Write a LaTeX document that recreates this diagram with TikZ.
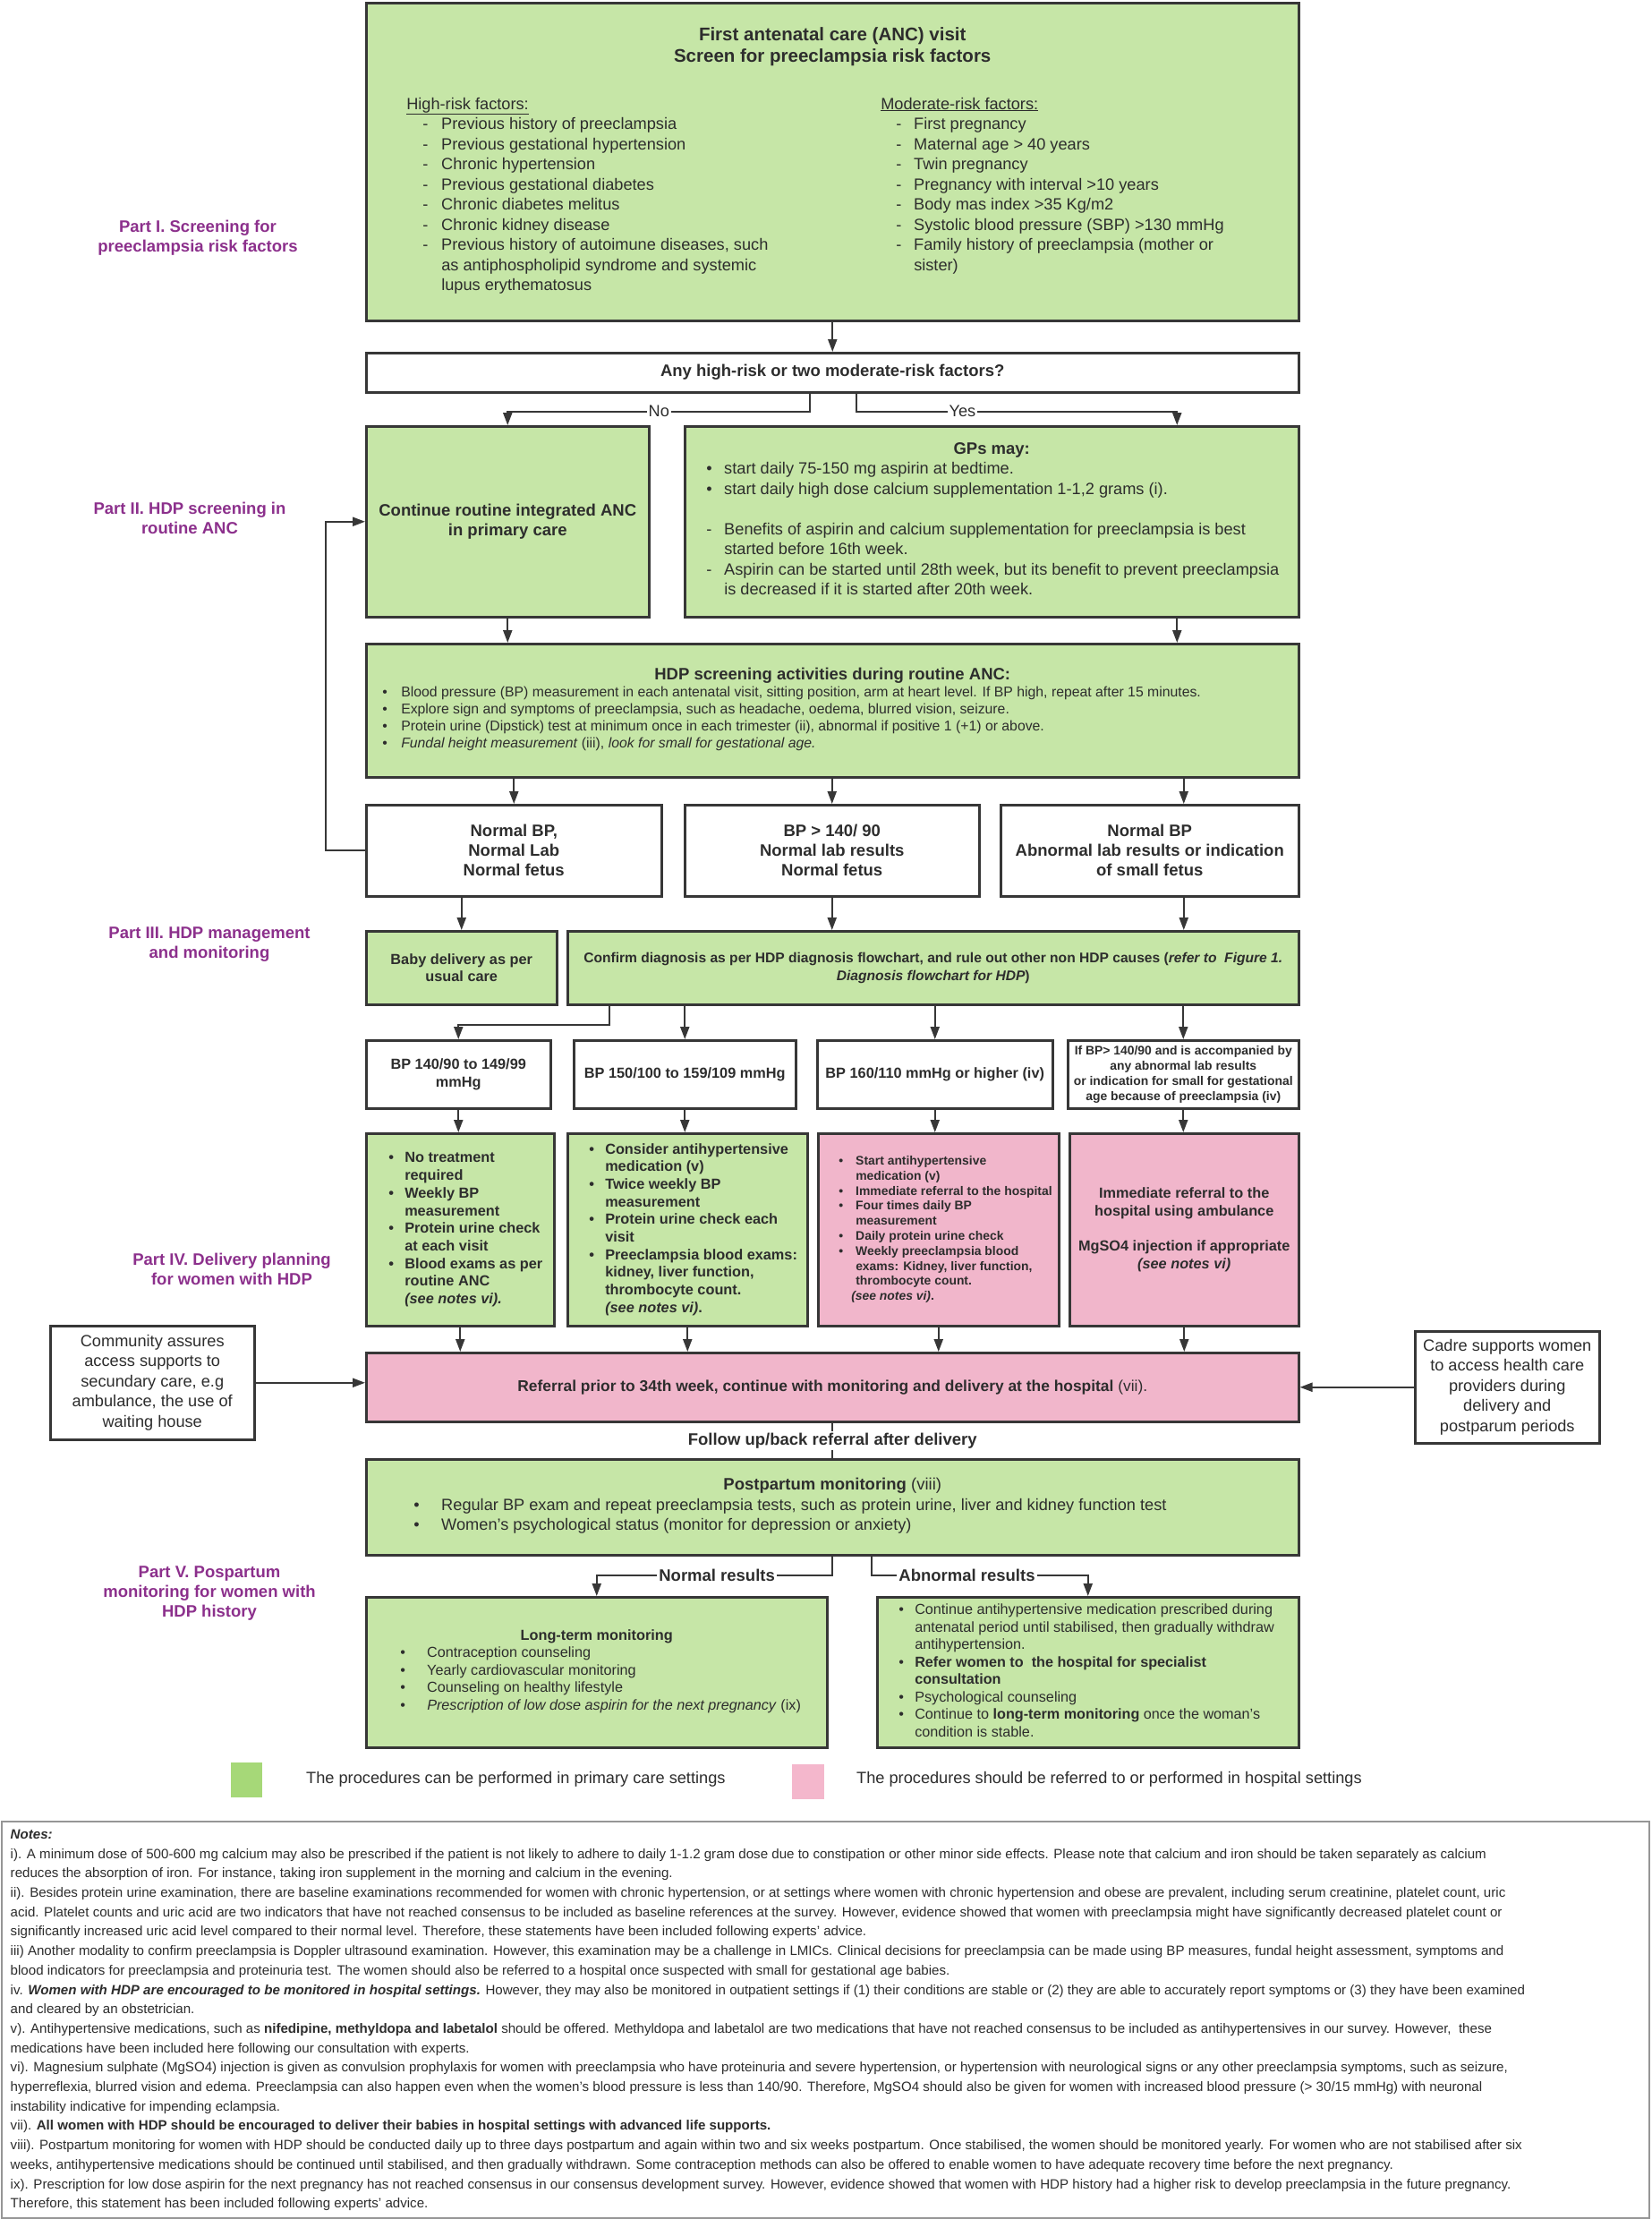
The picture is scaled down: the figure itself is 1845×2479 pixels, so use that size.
\documentclass[tikz,border=0pt]{standalone}
\usepackage{fontspec}
\setmainfont{Liberation Sans}
\usepackage{xcolor}
\usepackage{tikz}
\usetikzlibrary{arrows.meta}
\definecolor{ancgreen}{RGB}{198,230,167}
\definecolor{hosppink}{RGB}{241,182,203}
\definecolor{keygreen}{RGB}{166,216,120}
\definecolor{keypink}{RGB}{244,183,204}
\definecolor{partpurple}{RGB}{140,48,140}
\definecolor{boxline}{RGB}{55,55,55}
\definecolor{notegray}{RGB}{150,150,150}
\definecolor{txtgray}{RGB}{45,45,45}
\newcommand{\ttltxt}{\fontsize{20.5}{24.5}\selectfont\bfseries}
\newcommand{\hdtxt}{\fontsize{18.5}{22}\selectfont\bfseries}
\newcommand{\bodytxt}{\fontsize{18.2}{22.5}\selectfont}
\newcommand{\scrtxt}{\fontsize{15.8}{19}\selectfont}
\newcommand{\midtxt}{\fontsize{16.3}{19.7}\selectfont\bfseries}
\newcommand{\conftxt}{\fontsize{15.6}{19.7}\selectfont\bfseries}
\newcommand{\reftxt}{\fontsize{17.4}{21}\selectfont\bfseries}
\newcommand{\smtxt}{\fontsize{16.2}{19.5}\selectfont}
\newcommand{\tinytxt}{\fontsize{13.9}{16.8}\selectfont\bfseries}
\newcommand{\notetxt}{\fontsize{15.1}{21.7}\selectfont}
\tikzstyle{plainbox} = [draw=boxline, fill=white, line width=2.5pt,
    rectangle, anchor=north west, inner sep=0pt, align=center, text=txtgray]
\tikzstyle{greenbox} = [plainbox, fill=ancgreen]
\tikzstyle{pinkbox} = [plainbox, fill=hosppink]
\tikzstyle{parttitle} = [text=partpurple, font=\hdtxt, align=center]
\tikzstyle{arr} = [draw=boxline, line width=2pt, -{Triangle[length=14pt,width=10pt]}]
\tikzstyle{brlabel} = [fill=white, inner sep=2pt, text=txtgray, font=\bodytxt]

\begin{document}
\begin{tikzpicture}[x=1pt, y=-1pt]
\fill[white] (0,0) rectangle (1845,2479);
\useasboundingbox (0,0) rectangle (1845,2479);

\node[parttitle] (part1) at (221,266) {Part I. Screening for\\preeclampsia risk factors};
\node[parttitle] (part2) at (212,579) {Part II. HDP screening in\\routine ANC};
\node[parttitle] (part3) at (234,1055) {Part III. HDP management\\and monitoring};
\node[parttitle] (part4) at (259,1418) {Part IV. Delivery planning\\for women with HDP};
\node[parttitle] (part5) at (234,1780) {Part V. Pospartum\\monitoring for women with\\HDP history};

\node[greenbox, minimum width=1042pt, minimum height=355pt] (anc) at (408,2) {
    \begin{minipage}{1042pt}
    {\centering\ttltxt First antenatal care (ANC) visit\\Screen for preeclampsia risk factors\par}
    \vspace{30pt}
    \bodytxt\hspace*{45pt}\makebox[530pt][l]{\begin{tabular}[t]{@{}p{39pt}@{}l@{}}
        \multicolumn{2}{@{}l}{\underline{High-risk factors:}}\\
        \hspace*{18pt}- & Previous history of preeclampsia\\
        \hspace*{18pt}- & Previous gestational hypertension\\
        \hspace*{18pt}- & Chronic hypertension\\
        \hspace*{18pt}- & Previous gestational diabetes\\
        \hspace*{18pt}- & Chronic diabetes melitus\\
        \hspace*{18pt}- & Chronic kidney disease\\
        \hspace*{18pt}- & Previous history of autoimune diseases, such\\
        & as antiphospholipid syndrome and systemic\\
        & lupus erythematosus
    \end{tabular}}\begin{tabular}[t]{@{}p{37pt}@{}l@{}}
        \multicolumn{2}{@{}l}{\underline{Moderate-risk factors:}}\\
        \hspace*{17pt}- & First pregnancy\\
        \hspace*{17pt}- & Maternal age > 40 years\\
        \hspace*{17pt}- & Twin pregnancy\\
        \hspace*{17pt}- & Pregnancy with interval >10 years\\
        \hspace*{17pt}- & Body mas index >35 Kg/m2\\
        \hspace*{17pt}- & Systolic blood pressure (SBP) >130 mmHg\\
        \hspace*{17pt}- & Family history of preeclampsia (mother or\\
        & sister)
    \end{tabular}
    \end{minipage}};

\node[plainbox, minimum width=1042pt, minimum height=44pt, font=\hdtxt] (dec) at (408,393) {Any high-risk or two moderate-risk factors?};

\node[greenbox, minimum width=316pt, minimum height=213pt, font=\hdtxt] (cont) at (408,475) {Continue routine integrated ANC\\in primary care};

\node[greenbox, minimum width=686pt, minimum height=213pt] (gps) at (764,475) {
    \begin{minipage}{686pt}
    {\centering\hdtxt GPs may:\par}
    \bodytxt\hspace*{24pt}\begin{tabular}[t]{@{}p{20pt}@{}l@{}}
        \textbullet & start daily 75-150 mg aspirin at bedtime.\\
        \textbullet & start daily high dose calcium supplementation 1-1,2 grams (i).\\
        & \\
        - & Benefits of aspirin and calcium supplementation for preeclampsia is best\\
        & started before 16th week.\\
        - & Aspirin can be started until 28th week, but its benefit to prevent preeclampsia\\
        & is decreased if it is started after 20th week.
    \end{tabular}
    \end{minipage}};

\node[greenbox, minimum width=1042pt, minimum height=149pt] (hdp) at (408,718) {
    \begin{minipage}{1042pt}
    {\centering\hdtxt HDP screening activities during routine ANC:\par}
    \scrtxt\hspace*{18pt}\begin{tabular}[t]{@{}p{21pt}@{}l@{}}
        \textbullet & Blood pressure (BP) measurement in each antenatal visit, sitting position, arm at heart level. If BP high, repeat after 15 minutes.\\
        \textbullet & Explore sign and symptoms of preeclampsia, such as headache, oedema, blurred vision, seizure.\\
        \textbullet & Protein urine (Dipstick) test at minimum once in each trimester (ii), abnormal if positive 1 (+1) or above.\\
        \textbullet & \textit{Fundal height measurement} (iii), \textit{look for small for gestational age.}
    \end{tabular}
    \end{minipage}};

\node[plainbox, minimum width=330pt, minimum height=102pt, font=\hdtxt] (nb1) at (408,898) {Normal BP,\\Normal Lab\\Normal fetus};
\node[plainbox, minimum width=329pt, minimum height=102pt, font=\hdtxt] (nb2) at (764,898) {BP > 140/ 90\\Normal lab results\\Normal fetus};
\node[plainbox, minimum width=333pt, minimum height=102pt, font=\hdtxt] (nb3) at (1117,898) {Normal BP\\Abnormal lab results or indication\\of small fetus};

\node[greenbox, minimum width=213pt, minimum height=82pt, font=\midtxt] (baby) at (408,1039) {Baby delivery as per\\usual care};
\node[greenbox, minimum width=817pt, minimum height=82pt, font=\conftxt] (conf) at (633,1039) {Confirm diagnosis as per HDP diagnosis flowchart, and rule out other non HDP causes (\textit{refer to\ \ Figure 1.}\\\textit{Diagnosis flowchart for HDP})};

\node[plainbox, minimum width=206pt, minimum height=76pt, font=\midtxt] (bpa) at (408,1161) {BP 140/90 to 149/99\\mmHg};
\node[plainbox, minimum width=248pt, minimum height=76pt, font=\midtxt] (bpb) at (640,1161) {BP 150/100 to 159/109 mmHg};
\node[plainbox, minimum width=263pt, minimum height=76pt, font=\midtxt] (bpc) at (912,1161) {BP 160/110 mmHg or higher (iv)};
\node[plainbox, minimum width=258pt, minimum height=76pt, font=\tinytxt] (bpd) at (1192,1161) {If BP> 140/90 and is accompanied by\\any abnormal lab results\\or indication for small for gestational\\age because of preeclampsia (iv)};

\node[greenbox, minimum width=210pt, minimum height=215pt, font=\midtxt] (tr1) at (408,1265) {
    \begin{minipage}{210pt}
    \hspace*{25pt}\begin{tabular}[t]{@{}p{18pt}@{}l@{}}
        \textbullet & No treatment\\
        & required\\
        \textbullet & Weekly BP\\
        & measurement\\
        \textbullet & Protein urine check\\
        & at each visit\\
        \textbullet & Blood exams as per\\
        & routine ANC\\
        & \textit{(see notes vi).}
    \end{tabular}
    \end{minipage}};
\node[greenbox, minimum width=268pt, minimum height=215pt, font=\midtxt] (tr2) at (633,1265) {
    \begin{minipage}{268pt}
    \hspace*{24pt}\begin{tabular}[t]{@{}p{18pt}@{}l@{}}
        \textbullet & Consider antihypertensive\\
        & medication (v)\\
        \textbullet & Twice weekly BP\\
        & measurement\\
        \textbullet & Protein urine check each\\
        & visit\\
        \textbullet & Preeclampsia blood exams:\\
        & kidney, liver function,\\
        & thrombocyte count.\\
        & \textit{(see notes vi)}.
    \end{tabular}
    \end{minipage}};
\node[pinkbox, minimum width=269pt, minimum height=215pt, font=\tinytxt] (tr3) at (913,1265) {
    \begin{minipage}{269pt}
    \hspace*{23pt}\begin{tabular}[t]{@{}p{19pt}@{}l@{}}
        \textbullet & Start antihypertensive\\
        & medication (v)\\
        \textbullet & Immediate referral to the hospital\\
        \textbullet & Four times daily BP\\
        & measurement\\
        \textbullet & Daily protein urine check\\
        \textbullet & Weekly preeclampsia blood\\
        & exams: Kidney, liver function,\\
        & thrombocyte count.\\
        & \hspace*{-5pt}\textit{(see notes vi)}.
    \end{tabular}
    \end{minipage}};
\node[pinkbox, minimum width=256pt, minimum height=215pt, font=\midtxt] (tr4) at (1194,1265) {Immediate referral to the\\hospital using ambulance\\[19.7pt]MgSO4 injection if appropriate\\\textit{(see notes vi)}};

\node[plainbox, minimum width=228pt, minimum height=127pt, font=\bodytxt] (comm) at (55,1480) {Community assures\\access supports to\\secundary care, e.g\\ambulance, the use of\\waiting house};
\node[plainbox, minimum width=206pt, minimum height=125pt, font=\bodytxt] (cadre) at (1580,1486) {Cadre supports women\\to access health care\\providers during\\delivery and\\postparum periods};
\node[pinkbox, minimum width=1042pt, minimum height=77pt, font=\reftxt] (refer) at (408,1510) {Referral prior to 34th week, continue with monitoring and delivery at the hospital {\mdseries (vii).}};

\node[greenbox, minimum width=1042pt, minimum height=107pt] (post) at (408,1629) {
    \begin{minipage}{1042pt}
    {\centering\hdtxt Postpartum monitoring {\mdseries (viii)}\par}
    \bodytxt\hspace*{53pt}\begin{tabular}[t]{@{}p{31pt}@{}l@{}}
        \textbullet & Regular BP exam and repeat preeclampsia tests, such as protein urine, liver and kidney function test\\
        \textbullet & Women's psychological status (monitor for depression or anxiety)
    \end{tabular}
    \end{minipage}};

\node[greenbox, minimum width=515pt, minimum height=168pt] (longt) at (408,1783) {
    \begin{minipage}{515pt}
    {\centering\midtxt Long-term monitoring\par}
    \smtxt\hspace*{38pt}\begin{tabular}[t]{@{}p{30pt}@{}l@{}}
        \textbullet & Contraception counseling\\
        \textbullet & Yearly cardiovascular monitoring\\
        \textbullet & Counseling on healthy lifestyle\\
        \textbullet & \textit{Prescription of low dose aspirin for the next pregnancy} (ix)
    \end{tabular}
    \end{minipage}};
\node[greenbox, minimum width=471pt, minimum height=168pt] (abn) at (979,1783) {
    \begin{minipage}{471pt}
    \smtxt\hspace*{24pt}\begin{tabular}[t]{@{}p{18pt}@{}l@{}}
        \textbullet & Continue antihypertensive medication prescribed during\\
        & antenatal period until stabilised, then gradually withdraw\\
        & antihypertension.\\
        \textbullet & \textbf{Refer women to\ \ the hospital for specialist}\\
        & \textbf{consultation}\\
        \textbullet & Psychological counseling\\
        \textbullet & Continue to \textbf{long-term monitoring} once the woman's\\
        & condition is stable.
    \end{tabular}
    \end{minipage}};

\draw[arr] (anc.south) -- (dec.north);
\draw[arr] ([xshift=-25pt]dec.south) -- ++(0,20) -| node[pos=0.25, brlabel]{No} (cont.north);
\draw[arr] ([xshift=27pt]dec.south) -- ++(0,20) -| node[pos=0.165, brlabel]{Yes} ([xshift=207pt]gps.north);
\draw[arr] (cont.south) -- (cont.south |- hdp.north);
\draw[arr] ([xshift=207pt]gps.south) -- ([xshift=207pt]gps.south |- hdp.north);
\draw[arr] (hdp.south -| nb1.north) -- (nb1.north);
\draw[arr] (hdp.south -| nb2.north) -- (nb2.north);
\draw[arr] ([xshift=38pt]hdp.south -| nb3.north) -- ([xshift=38pt]nb3.north);
\draw[arr] (nb1.west) -- ++(-44,0) |- (cont.west);
\draw[arr] (nb1.south -| baby.north) -- (baby.north);
\draw[arr] (nb2.south) -- (nb2.south |- conf.north);
\draw[arr] ([xshift=38pt]nb3.south) -- ([xshift=38pt]nb3.south |- conf.north);
\draw[arr] ([xshift=-362pt]conf.south) -- ++(0,21) -| (bpa.north);
\draw[arr] (conf.south -| bpb.north) -- (bpb.north);
\draw[arr] (conf.south -| bpc.north) -- (bpc.north);
\draw[arr] (conf.south -| bpd.north) -- (bpd.north);
\draw[arr] (bpa.south) -- (bpa.south |- tr1.north);
\draw[arr] (bpb.south) -- (bpb.south |- tr2.north);
\draw[arr] (bpc.south) -- (bpc.south |- tr3.north);
\draw[arr] (bpd.south) -- (bpd.south |- tr4.north);
\draw[arr] (tr1.south) -- (tr1.south |- refer.north);
\draw[arr] (tr2.south) -- (tr2.south |- refer.north);
\draw[arr] (tr3.south) -- (tr3.south |- refer.north);
\draw[arr] (tr4.south) -- (tr4.south |- refer.north);
\draw[arr] (comm.east) -- (comm.east -| refer.west);
\draw[arr] (cadre.west) -- (cadre.west -| refer.east);
\draw[draw=boxline, line width=2pt] (refer.south) -- node[brlabel, font=\hdtxt]{Follow up/back referral after delivery} (post.north);
\draw[arr] (post.south) -- ++(0,21) -| node[pos=0.245, brlabel, font=\hdtxt]{Normal results} (longt.north);
\draw[arr] ([xshift=44pt]post.south) -- ++(0,21) -| node[pos=0.22, brlabel, font=\hdtxt]{Abnormal results} (abn.north);

\node[fill=keygreen, minimum width=35pt, minimum height=39pt, inner sep=0pt, anchor=north west] (keyg) at (258,1969) {};
\node[anchor=west, inner sep=0pt, font=\bodytxt, text=txtgray] (keygtxt) at (342,1988) {The procedures can be performed in primary care settings};
\node[fill=keypink, minimum width=36pt, minimum height=39pt, inner sep=0pt, anchor=north west] (keyp) at (885,1971) {};
\node[anchor=west, inner sep=0pt, font=\bodytxt, text=txtgray] (keyptxt) at (957,1988) {The procedures should be referred to or performed in hospital settings};

\node[draw=notegray, line width=1.5pt, anchor=north west, minimum width=1841pt, minimum height=443pt, inner sep=0pt, text=txtgray, font=\notetxt] (notes) at (1,2034) {
    \makebox[1841pt][l]{\hspace*{10pt}\begin{tabular}{@{}l@{}}
    \textbf{\textit{Notes:}}\\
    i). A minimum dose of 500-600 mg calcium may also be prescribed if the patient is not likely to adhere to daily 1-1.2 gram dose due to constipation or other minor side effects. Please note that calcium and iron should be taken separately as calcium\\
    reduces the absorption of iron. For instance, taking iron supplement in the morning and calcium in the evening.\\
    ii). Besides protein urine examination, there are baseline examinations recommended for women with chronic hypertension, or at settings where women with chronic hypertension and obese are prevalent, including serum creatinine, platelet count, uric\\
    acid. Platelet counts and uric acid are two indicators that have not reached consensus to be included as baseline references at the survey. However, evidence showed that women with preeclampsia might have significantly decreased platelet count or\\
    significantly increased uric acid level compared to their normal level. Therefore, these statements have been included following experts' advice.\\
    iii) Another modality to confirm preeclampsia is Doppler ultrasound examination. However, this examination may be a challenge in LMICs. Clinical decisions for preeclampsia can be made using BP measures, fundal height assessment, symptoms and\\
    blood indicators for preeclampsia and proteinuria test. The women should also be referred to a hospital once suspected with small for gestational age babies.\\
    iv. \textbf{\textit{Women with HDP are encouraged to be monitored in hospital settings.}} However, they may also be monitored in outpatient settings if (1) their conditions are stable or (2) they are able to accurately report symptoms or (3) they have been examined\\
    and cleared by an obstetrician.\\
    v). Antihypertensive medications, such as \textbf{nifedipine, methyldopa and labetalol} should be offered. Methyldopa and labetalol are two medications that have not reached consensus to be included as antihypertensives in our survey. However,\ \ these\\
    medications have been included here following our consultation with experts.\\
    vi). Magnesium sulphate (MgSO4) injection is given as convulsion prophylaxis for women with preeclampsia who have proteinuria and severe hypertension, or hypertension with neurological signs or any other preeclampsia symptoms, such as seizure,\\
    hyperreflexia, blurred vision and edema. Preeclampsia can also happen even when the women's blood pressure is less than 140/90. Therefore, MgSO4 should also be given for women with increased blood pressure (> 30/15 mmHg) with neuronal\\
    instability indicative for impending eclampsia.\\
    vii). \textbf{All women with HDP should be encouraged to deliver their babies in hospital settings with advanced life supports.}\\
    viii). Postpartum monitoring for women with HDP should be conducted daily up to three days postpartum and again within two and six weeks postpartum. Once stabilised, the women should be monitored yearly. For women who are not stabilised after six\\
    weeks, antihypertensive medications should be continued until stabilised, and then gradually withdrawn. Some contraception methods can also be offered to enable women to have adequate recovery time before the next pregnancy.\\
    ix). Prescription for low dose aspirin for the next pregnancy has not reached consensus in our consensus development survey. However, evidence showed that women with HDP history had a higher risk to develop preeclampsia in the future pregnancy.\\
    Therefore, this statement has been included following experts' advice.
    \end{tabular}}};
\end{tikzpicture}
\end{document}
